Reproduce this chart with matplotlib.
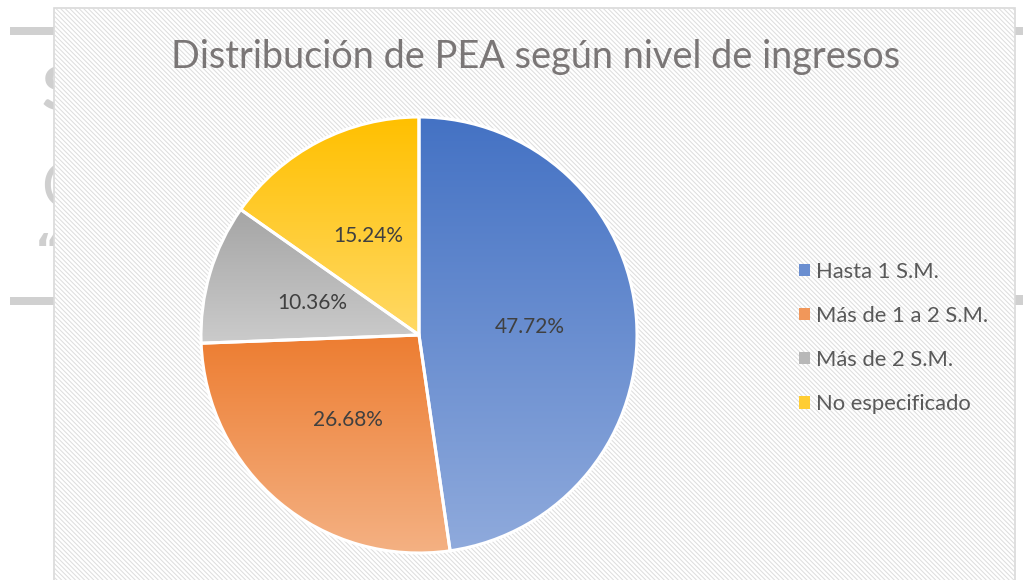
import numpy as np
import matplotlib
matplotlib.use("Agg")
import matplotlib.pyplot as plt
from matplotlib.patches import Rectangle
from matplotlib.collections import LineCollection
from matplotlib.colors import to_rgb

# ---- data ----
title = "Distribución de PEA según nivel de ingresos"
categories = ["Hasta 1 S.M.", "Más de 1 a 2 S.M.", "Más de 2 S.M.", "No especificado"]
values = [47.72, 26.68, 10.36, 15.24]
top_colors = ["#4472C4", "#ED7D31", "#A5A5A5", "#FFC000"]
bottom_colors = ["#8FAADC", "#F4B183", "#CBCBCB", "#FFD966"]

W, H = 1023, 580
plt.rcParams['font.family'] = ['Lato', 'DejaVu Sans']

fig = plt.figure(figsize=(W / 100, H / 100), dpi=100)
ax = fig.add_axes([0, 0, 1, 1])
ax.set_xlim(0, W)
ax.set_ylim(0, H)
ax.axis('off')

def py(y):
    return H - y

# watermark-ish background elements outside chart frame
wm = '#CFCFCF'
for (x0, x1, y0, y1) in [(10, 60, 27, 35), (10, 60, 297, 305), (1015, 1023, 27, 35), (1015, 1023, 295, 305)]:
    ax.add_patch(Rectangle((x0, py(y1)), x1 - x0, y1 - y0, color='#D0D0D0', lw=0, zorder=0))
ax.text(58, py(92), "S", fontsize=44, fontweight='bold', color=wm, ha='center', va='center', zorder=0)
ax.text(62, py(190), "C", fontsize=44, color=wm, ha='center', va='center', zorder=0)
ax.text(48, py(252), "\u201c", fontsize=30, fontweight='bold', color=wm, ha='center', va='center', zorder=0,
        family=['DejaVu Sans'])

# chart frame with diagonal stripes
fx0, fx1, fy0, fy1 = 54, 1015, py(590), py(8)
frame = Rectangle((fx0, fy0), fx1 - fx0, fy1 - fy0, facecolor='white', edgecolor='#D9D9D9',
                  lw=1.2, zorder=1)
ax.add_patch(frame)
step = 4.6
offs = np.arange(fx0 - (fy1 - fy0) - 10, fx1 + 10, step)
segs = [[(o, fy1), (o + (fy1 - fy0), fy0)] for o in offs]
lc = LineCollection(segs, colors='#DEDEDE', linewidths=0.75, zorder=1.1)
ax.add_collection(lc)
lc.set_clip_path(frame)

# pie
cx, cy, r = 419, py(335), 218
wedges, texts, autotexts = ax.pie(values, colors=top_colors, startangle=90, counterclock=False,
                                  center=(cx, cy), radius=r, frame=True,
                                  autopct='%.2f%%', pctdistance=0.51,
                                  wedgeprops=dict(edgecolor='white', linewidth=2.2),
                                  textprops=dict(fontsize=15, color='#404040'))
ax.set_xlim(0, W)
ax.set_ylim(0, H)
ax.axis('off')

mid_colors = []
for t, b in zip(top_colors, bottom_colors):
    t, b = np.array(to_rgb(t)), np.array(to_rgb(b))
    mid_colors.append(tuple((t + b) / 2))
for w, mc in zip(wedges, mid_colors):
    w.set_facecolor(mc)
    w.set_zorder(2)

leg = ax.legend(wedges, categories, loc='upper left', bbox_to_anchor=(779, py(242)),
                bbox_transform=ax.transData, frameon=False, fontsize=15.8,
                handlelength=0.5, handleheight=0.5, handletextpad=0.3, labelspacing=1.1,
                labelcolor='#595959')
leg.set_zorder(5)
for h in leg.legend_handles:
    h.set_edgecolor('none')

# gradient fills clipped to wedges
for w, t, b in zip(wedges, top_colors, bottom_colors):
    ext = w.get_path().get_extents()
    t, b = np.array(to_rgb(t)), np.array(to_rgb(b))
    f = np.linspace(0, 1, 256)[:, None]
    grad = (b[None, :] * (1 - f) + t[None, :] * f)[:, None, :]
    im = ax.imshow(grad, extent=[ext.x0, ext.x1, ext.y0, ext.y1], origin='lower',
                   aspect='auto', zorder=2.5, interpolation='bilinear')
    im.set_clip_path(w)
    w.set_facecolor('none')
    w.set_zorder(3)
for at in autotexts:
    at.set_zorder(4)

ax.set_xlim(0, W)
ax.set_ylim(0, H)

ax.text(536, py(57), title, fontsize=27.3, color='#7A7676', ha='center', va='center',
        fontweight='normal', zorder=4)

fig.savefig("out.png", dpi=100)
